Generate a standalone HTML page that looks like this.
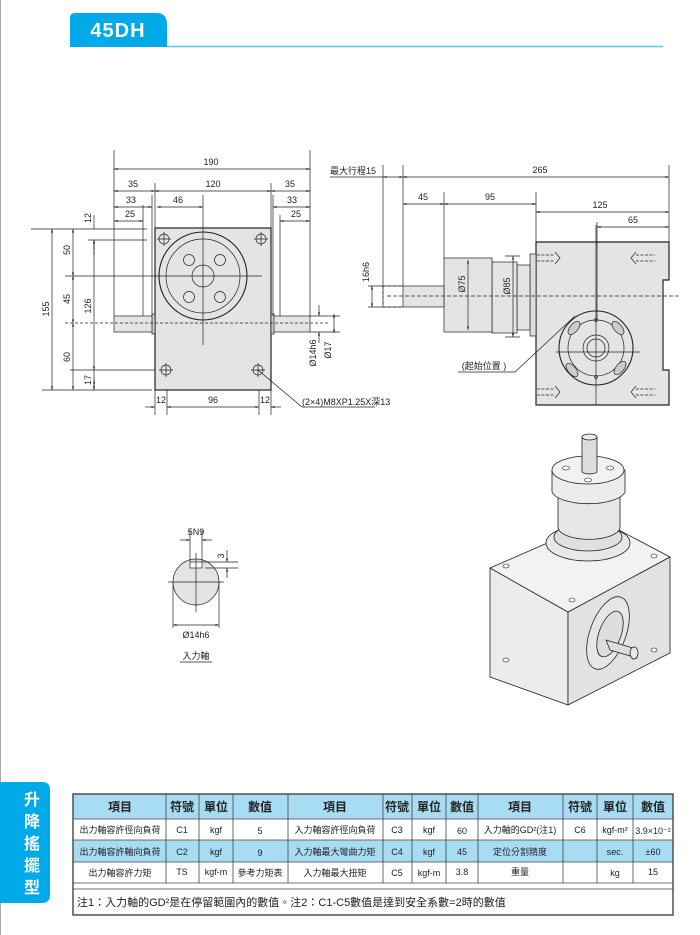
<!DOCTYPE html>
<html><head><meta charset="utf-8"><style>
html,body{margin:0;padding:0;background:#fff;}
svg{display:block;}
text{font-family:"Liberation Sans","Noto Sans CJK TC",sans-serif;}
</style></head><body>
<svg width="700" height="935" viewBox="0 0 700 935" xmlns="http://www.w3.org/2000/svg">
<defs>
<marker id="a" viewBox="0 0 10 10" refX="10" refY="5" markerWidth="7" markerHeight="5" orient="auto-start-reverse"><path d="M0,2 L10,5 L0,8z" fill="#222"/></marker>
</defs>
<line x1="0.5" y1="0" x2="0.5" y2="935" stroke="#aaa" stroke-width="1"/>
<!-- header -->
<path d="M70,47 V18 Q70,13 75,13 H157 Q167,13 167,25 V47 Z" fill="#00a9e8"/>
<text x="118" y="37" font-size="20" font-weight="bold" fill="#fff" text-anchor="middle" letter-spacing="1">45DH</text>
<line x1="167" y1="46.5" x2="663" y2="46.5" stroke="#5bc3ee" stroke-width="1.5"/>

<g stroke="#222" stroke-width="0.7" fill="none" font-size="9">
<!-- LEFT VIEW -->
<rect x="155" y="228" width="116" height="162" fill="#e4e4e4" stroke-width="1.2"/>
<rect x="114" y="316" width="41" height="16" fill="#e4e4e4"/>
<rect x="271" y="316" width="39" height="16" fill="#e4e4e4"/>
<rect x="152" y="314" width="3" height="20" fill="#ccc"/>
<rect x="271" y="314" width="3" height="20" fill="#ccc"/>
<circle cx="203" cy="276" r="44" stroke-width="1.1"/>
<circle cx="203" cy="276" r="37"/>
<circle cx="203" cy="276" r="11"/>
<circle cx="189" cy="260" r="5.5"/><circle cx="220" cy="260" r="5.5"/>
<circle cx="189" cy="297" r="5.5"/><circle cx="220" cy="297" r="5.5"/>
<g>
<circle cx="164" cy="239" r="5"/><circle cx="261" cy="239" r="5"/>
<circle cx="166" cy="370" r="5"/><circle cx="258" cy="370" r="5"/>
<path d="M157,239h14M164,232v14M254,239h14M261,232v14M159,370h14M166,363v14M251,370h14M258,363v14"/>
</g>
<line x1="203" y1="195" x2="203" y2="345"/>
<line x1="65" y1="276" x2="262" y2="276"/>
<line x1="65" y1="323" x2="330" y2="323" stroke-dasharray="3,2"/>
<!-- extension lines -->
<path d="M114,150V316M310,150V316M155,183V228M271,183V228M152,195V316M273,195V316M143,205V316M280,215V316"/>
<path d="M31,229H147M42,390H152M88,240H147M70,370H155M310,316H340M310,332H340"/>
<path d="M155,390V415M167,390V415M259,390V415M271,390V415"/>
<!-- dims -->
<g marker-start="url(#a)" marker-end="url(#a)">
<line x1="114" y1="169" x2="310" y2="169"/>
<line x1="114" y1="191" x2="155" y2="191"/>
<line x1="155" y1="191" x2="271" y2="191"/>
<line x1="271" y1="191" x2="310" y2="191"/>
<line x1="114" y1="207" x2="152" y2="207"/>
<line x1="157" y1="207" x2="203" y2="207"/>
<line x1="273" y1="207" x2="310" y2="207"/>
<line x1="114" y1="221" x2="143" y2="221"/>
<line x1="280" y1="221" x2="310" y2="221"/>
<line x1="52" y1="229" x2="52" y2="390"/>
<line x1="73" y1="229" x2="73" y2="276"/>
<line x1="73" y1="276" x2="73" y2="323"/>
<line x1="73" y1="323" x2="73" y2="390"/>
<line x1="94" y1="240" x2="94" y2="370"/>
<line x1="167" y1="407" x2="259" y2="407"/>
</g>
<path d="M94,215V229M94,240V250M94,370V390M94,380" marker-end="url(#a)"/>
<line x1="94" y1="255" x2="94" y2="240" marker-end="url(#a)"/>
<line x1="94" y1="378" x2="94" y2="390" marker-end="url(#a)"/>
<line x1="319" y1="305" x2="319" y2="316" marker-end="url(#a)"/>
<line x1="319" y1="343" x2="319" y2="332" marker-end="url(#a)"/>
<line x1="334" y1="314" x2="334" y2="333" marker-start="url(#a)" marker-end="url(#a)"/>
<line x1="145" y1="407" x2="155" y2="407" marker-end="url(#a)"/>
<line x1="281" y1="407" x2="271" y2="407" marker-end="url(#a)"/>
<path d="M258,370L302,407H375"/>
</g>
<g font-size="9" fill="#222" text-anchor="middle">
<text x="211" y="165">190</text>
<text x="133" y="187">35</text><text x="213" y="187">120</text><text x="290" y="187">35</text>
<text x="131" y="203">33</text><text x="178" y="203">46</text><text x="292" y="203">33</text>
<text x="130" y="217">25</text><text x="296" y="217">25</text>
<text transform="translate(49,309) rotate(-90)">155</text>
<text transform="translate(70,250) rotate(-90)">50</text>
<text transform="translate(70,299) rotate(-90)">45</text>
<text transform="translate(70,357) rotate(-90)">60</text>
<text transform="translate(91,218) rotate(-90)">12</text>
<text transform="translate(91,306) rotate(-90)">126</text>
<text transform="translate(91,380) rotate(-90)">17</text>
<text transform="translate(316,353) rotate(-90)">Ø14h6</text>
<text transform="translate(331,350) rotate(-90)">Ø17</text>
<text x="161" y="403">12</text><text x="213" y="403">96</text><text x="265" y="403">12</text>
<text x="302" y="405" text-anchor="start">(2×4)M8XP1.25X深13</text>
</g>

<!-- RIGHT VIEW -->
<g stroke="#222" stroke-width="0.7" fill="none">
<path d="M536,242H669V280H663V370H669V405H536Z" fill="#e4e4e4" stroke-width="1.2"/>
<rect x="530" y="254" width="6" height="82" fill="#ddd"/>
<rect x="517" y="265" width="13" height="65" fill="#e4e4e4"/>
<rect x="492" y="262" width="25" height="71" fill="#e4e4e4"/>
<rect x="444" y="258" width="48" height="74" fill="#e4e4e4"/>
<rect x="403" y="286" width="41" height="21" fill="#e4e4e4"/>
<path d="M383,286H403M383,307H403M383,286V307" stroke-dasharray="3,2"/>
<line x1="387" y1="296" x2="680" y2="296" stroke-dasharray="4,2"/>
<g stroke-dasharray="3,1.5">
<path d="M537,255H555M537,261H555M636,255H655M636,261H655M537,389H555M537,395H555M636,389H655M636,395H655"/>
</g>
<path d="M555,252l5,6l-5,6M636,252l-5,6l5,6M555,386l5,6l-5,6M636,386l-5,6l5,6"/>
<circle cx="596" cy="348" r="37" fill="#e4e4e4" stroke-width="1.1"/>
<circle cx="596" cy="348" r="28"/>
<circle cx="596" cy="348" r="13"/>
<circle cx="596" cy="348" r="9"/>
<circle cx="596" cy="320" r="1.5"/><circle cx="596" cy="377" r="1.5"/>
<g fill="#ccc">
<ellipse cx="574" cy="328" rx="4" ry="8" transform="rotate(40 574 328)"/>
<ellipse cx="618" cy="328" rx="4" ry="8" transform="rotate(-40 618 328)"/>
<ellipse cx="572" cy="370" rx="4" ry="8" transform="rotate(-40 572 370)"/>
<ellipse cx="620" cy="368" rx="4" ry="8" transform="rotate(40 620 368)"/>
</g>
<path d="M556,352H640M596,225V405"/>
<path d="M383,165V306M403,165V286M669,165V242M444,192V258M536,192V242M597,222V320M368,286H403M368,307H403"/>
<path d="M330,177H384"/>
<line x1="383" y1="177" x2="403" y2="177" marker-start="url(#a)" marker-end="url(#a)"/>
<line x1="403" y1="177" x2="669" y2="177" marker-start="url(#a)" marker-end="url(#a)"/>
<line x1="403" y1="204" x2="444" y2="204" marker-start="url(#a)" marker-end="url(#a)"/>
<line x1="444" y1="204" x2="536" y2="204" marker-start="url(#a)" marker-end="url(#a)"/>
<line x1="536" y1="212" x2="669" y2="212" marker-start="url(#a)" marker-end="url(#a)"/>
<line x1="597" y1="227" x2="669" y2="227" marker-start="url(#a)" marker-end="url(#a)"/>
<line x1="372" y1="286" x2="372" y2="307" marker-start="url(#a)" marker-end="url(#a)"/>
<line x1="468" y1="260" x2="468" y2="330" marker-start="url(#a)" marker-end="url(#a)"/>
<line x1="513" y1="256" x2="513" y2="337" marker-start="url(#a)" marker-end="url(#a)"/>
<path d="M505,256H520M505,337H520"/>
<path d="M458,372H515L575,316"/>
</g>
<g font-size="9" fill="#222" text-anchor="middle">
<text x="330" y="174" text-anchor="start">最大行程15</text>
<text x="540" y="173">265</text>
<text x="423" y="200">45</text><text x="490" y="200">95</text>
<text x="600" y="208">125</text><text x="633" y="223">65</text>
<text transform="translate(369,272) rotate(-90)">16h6</text>
<text transform="translate(465,284) rotate(-90)">Ø75</text>
<text transform="translate(510,286) rotate(-90)">Ø85</text>
<text x="484" y="369">(起始位置 )</text>
</g>

<!-- KEY SECTION -->
<g stroke="#222" stroke-width="0.7" fill="none">
<circle cx="196" cy="582" r="23" fill="#e4e4e4"/>
<rect x="190" y="562" width="12" height="6" fill="#fff"/>
<path d="M168,582H224M196,553V612"/>
<path d="M190,530V562M202,530V562M202,562H238M205,568H238M173,582V628M219,582V628"/>
<line x1="180" y1="540" x2="190" y2="540" marker-end="url(#a)"/>
<line x1="212" y1="540" x2="202" y2="540" marker-end="url(#a)"/>
<line x1="227" y1="550" x2="227" y2="562" marker-end="url(#a)"/>
<line x1="227" y1="578" x2="227" y2="568" marker-end="url(#a)"/>
<line x1="173" y1="625" x2="219" y2="625" marker-start="url(#a)" marker-end="url(#a)"/>
<path d="M180,662H212"/>
</g>
<g font-size="9" fill="#222" text-anchor="middle">
<text x="196" y="535">5N9</text>
<text transform="translate(224,556) rotate(-90)">3</text>
<text x="196" y="638">Ø14h6</text>
<text x="196" y="659">入力軸</text>
</g>

<!-- 3D -->
<g stroke="#222" stroke-width="0.8" stroke-linejoin="round">
<path d="M490,568L568,612V705L490,677Z" fill="#ececec"/>
<path d="M568,612L670,557V653L568,705Z" fill="#e2e2e2"/>
<path d="M490,568L568,612L670,557L600,520Z" fill="#f2f2f2"/>
<ellipse cx="588" cy="543" rx="42" ry="18" fill="#e8e8e8"/>
<ellipse cx="588" cy="537" rx="34" ry="14" fill="#e0e0e0"/>
<path d="M558,495V527A30,12 0 0 0 620,527V495Z" fill="#e6e6e6"/>
<path d="M552,470V492A37,14 0 0 0 625,492V470Z" fill="#ececec"/>
<ellipse cx="588" cy="470" rx="36" ry="14" fill="#f2f2f2"/>
<path d="M582,437V472A8,3 0 0 0 597,472V437Z" fill="#ddd"/>
<ellipse cx="589.5" cy="437" rx="7.5" ry="3" fill="#eee"/>
<g fill="#fff" stroke-width="0.6">
<ellipse cx="566" cy="468" rx="3.5" ry="2"/><ellipse cx="610" cy="468" rx="3.5" ry="2"/><ellipse cx="588" cy="480" rx="3.5" ry="2"/>
<ellipse cx="506" cy="566" rx="3" ry="2"/><ellipse cx="654" cy="556" rx="3" ry="2"/><ellipse cx="572" cy="600" rx="3" ry="2"/>
<ellipse cx="506" cy="660" rx="3" ry="2"/><ellipse cx="654" cy="650" rx="3" ry="2"/>
</g>
<ellipse cx="608" cy="633" rx="18" ry="38" transform="rotate(20 608 633)" fill="#e6e6e6"/>
<ellipse cx="610" cy="634" rx="11" ry="24" transform="rotate(20 610 634)" fill="#ddd"/>
<path d="M606,640L633,648L637,658L610,650Z" fill="#ddd"/>
<ellipse cx="634" cy="653" rx="4" ry="6" fill="#e8e8e8"/>
</g>

<!-- side tab -->
<path d="M0,782H42Q50,782 50,790V895Q50,903 42,903H0Z" fill="#00a9e8"/>
<g font-size="16" font-weight="bold" fill="#fff" text-anchor="middle">
<text x="32" y="805">升</text><text x="32" y="827">降</text><text x="32" y="849">搖</text><text x="32" y="871">擺</text><text x="32" y="893">型</text>
</g>

<!-- table -->
<g>
<rect x="73" y="794" width="600" height="25" fill="#a8dcf3"/>
<rect x="73" y="840" width="600" height="22" fill="#a8dcf3"/>
<g stroke="#444" stroke-width="0.8" fill="none">
<rect x="73" y="794" width="600" height="121" stroke-width="1.4"/>
<path d="M73,819H673M73,840H673M73,862H673M73,883H673M73,889H673"/>
<path d="M166,794V883M199,794V883M233,794V883M288,794V883M383,794V883M412,794V883M446,794V883M478,794V883M563,794V883M597,794V883M633,794V883"/>
</g>
<g font-size="12" font-weight="bold" fill="#222" text-anchor="middle">
<text x="120" y="811">項目</text><text x="182" y="811">符號</text><text x="216" y="811">單位</text><text x="260" y="811">數值</text>
<text x="335" y="811">項目</text><text x="397" y="811">符號</text><text x="429" y="811">單位</text><text x="462" y="811">數值</text>
<text x="520" y="811">項目</text><text x="580" y="811">符號</text><text x="615" y="811">單位</text><text x="653" y="811">數值</text>
</g>
<g font-size="9" fill="#222" text-anchor="middle">
<text x="120" y="833">出力軸容許徑向負荷</text><text x="182" y="833">C1</text><text x="216" y="833">kgf</text><text x="260" y="834">5</text>
<text x="335" y="833">入力軸容許徑向負荷</text><text x="397" y="833">C3</text><text x="429" y="833">kgf</text><text x="462" y="834">60</text>
<text x="520" y="833">入力軸的GD²(注1)</text><text x="580" y="833">C6</text><text x="615" y="833">kgf-m²</text><text x="653" y="834">3.9×10⁻²</text>
<text x="120" y="855">出力軸容許軸向負荷</text><text x="182" y="855">C2</text><text x="216" y="855">kgf</text><text x="260" y="856">9</text>
<text x="335" y="855">入力軸最大彎曲力矩</text><text x="397" y="855">C4</text><text x="429" y="855">kgf</text><text x="462" y="855">45</text>
<text x="520" y="855">定位分割精度</text><text x="615" y="855">sec.</text><text x="653" y="855">±60</text>
<text x="120" y="876">出力軸容許力矩</text><text x="182" y="875">TS</text><text x="216" y="875">kgf-m</text><text x="260" y="876">參考力矩表</text>
<text x="335" y="876">入力軸最大扭矩</text><text x="397" y="876">C5</text><text x="429" y="876">kgf-m</text><text x="462" y="875">3.8</text>
<text x="520" y="875">重量</text><text x="615" y="876">kg</text><text x="653" y="875">15</text>
</g>
<text x="77" y="906" font-size="11" fill="#222">注1：入力軸的GD²是在停留範圍內的數值。注2：C1-C5數值是達到安全系數=2時的數值</text>
</g>
</svg>
</body></html>
